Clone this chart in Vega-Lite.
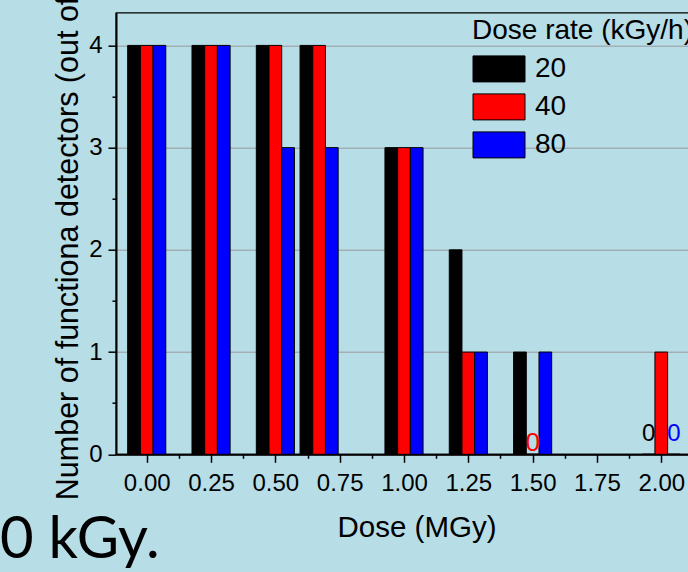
{
  "$schema": "https://vega.github.io/schema/vega-lite/v6.json",
  "width": 576,
  "height": 441.6,
  "autosize": {"type": "none"},
  "padding": {"left": 116, "top": 12.7, "right": 0, "bottom": 117.7},
  "background": "#b7dde7",
  "title": {"text": "0 kGy.", "orient": "bottom", "anchor": "start", "frame": "group", "dx": -116, "offset": 16, "baseline": "alphabetic", "font": "Lato", "fontSize": 58, "fontWeight": "normal", "color": "black"},
  "config": {"view": {"stroke": "black", "strokeWidth": 1.3}, "font": "Liberation Sans"},
  "data": {"values": [
    {"dose": 0, "rate": "20", "value": 4}, {"dose": 0, "rate": "40", "value": 4}, {"dose": 0, "rate": "80", "value": 4},
    {"dose": 0.25, "rate": "20", "value": 4}, {"dose": 0.25, "rate": "40", "value": 4}, {"dose": 0.25, "rate": "80", "value": 4},
    {"dose": 0.5, "rate": "20", "value": 4}, {"dose": 0.5, "rate": "40", "value": 4}, {"dose": 0.5, "rate": "80", "value": 3},
    {"dose": 0.67, "rate": "20", "value": 4}, {"dose": 0.67, "rate": "40", "value": 4}, {"dose": 0.67, "rate": "80", "value": 3},
    {"dose": 1.0, "rate": "20", "value": 3}, {"dose": 1.0, "rate": "40", "value": 3}, {"dose": 1.0, "rate": "80", "value": 3},
    {"dose": 1.25, "rate": "20", "value": 2}, {"dose": 1.25, "rate": "40", "value": 1}, {"dose": 1.25, "rate": "80", "value": 1},
    {"dose": 1.5, "rate": "20", "value": 1}, {"dose": 1.5, "rate": "40", "value": 0}, {"dose": 1.5, "rate": "80", "value": 1},
    {"dose": 2.0, "rate": "20", "value": 0}, {"dose": 2.0, "rate": "40", "value": 1}, {"dose": 2.0, "rate": "80", "value": 0}
  ]},
  "resolve": {"axis": {"x": "independent", "y": "independent"}},
  "layer": [
    {
      "transform": [{"filter": "datum.rate == '20'"}],
      "mark": {"type": "bar", "width": 12.7, "xOffset": -12.7, "stroke": "black", "strokeWidth": 1},
      "encoding": {
        "x": {"field": "dose", "type": "quantitative", "scale": {"domain": [-0.1, 2.1], "nice": false, "zero": false},
          "axis": {"orient": "bottom", "values": [0, 0.25, 0.5, 0.75, 1, 1.25, 1.5, 1.75, 2], "format": ".2f", "title": "Dose (MGy)", "titleFontSize": 29.5, "titleFontWeight": "normal", "titleColor": "black", "titleX": 300.5, "titleY": 81.7, "titleBaseline": "alphabetic", "titleAlign": "center", "labelFontSize": 24, "labelColor": "black", "labelPadding": 9, "tickSize": 8, "tickWidth": 1.5, "tickColor": "black", "domainColor": "black", "domainWidth": 2, "grid": false, "labelFlush": false, "labelOverlap": false}},
        "y": {"field": "value", "type": "quantitative", "scale": {"domain": [0, 4.32], "nice": false, "zero": true},
          "axis": {"orient": "left", "values": [0, 1, 2, 3, 4], "format": "d", "title": "Number of functiona detectors (out of 4)", "titleFontSize": 30.5, "titleFontWeight": "normal", "titleColor": "black", "titleX": -39, "titleY": 487, "titleAlign": "left", "titleAngle": -90, "titleBaseline": "alphabetic", "labelFontSize": 24, "labelColor": "black", "labelPadding": 6, "tickSize": 8, "tickWidth": 1.5, "tickColor": "black", "grid": true, "gridColor": "#999999", "gridWidth": 1, "domainColor": "black", "domainWidth": 2}},
        "color": {"field": "rate", "type": "nominal", "scale": {"domain": ["20", "40", "80"], "range": ["#000000", "#ff0000", "#0000ff"]},
          "legend": {"title": "Dose rate (kGy/h)", "orient": "none", "legendX": 356, "legendY": 4.2, "titleFontSize": 28, "titleFontWeight": "normal", "titleColor": "black", "titlePadding": 10, "titleLimit": 1000, "labelFontSize": 28, "labelColor": "black", "symbolType": "M-1,-1H3V1H-1Z", "symbolSize": 676, "symbolStrokeColor": "black", "symbolStrokeWidth": 1, "symbolOpacity": 1, "labelOffset": 35, "rowPadding": 8, "padding": 0}}
      }
    },
    {
      "transform": [{"filter": "datum.rate == '40'"}],
      "mark": {"type": "bar", "width": 12.7, "xOffset": 0, "stroke": "black", "strokeWidth": 1},
      "encoding": {
        "x": {"field": "dose", "type": "quantitative", "axis": {"orient": "bottom", "values": [0.125, 0.375, 0.625, 0.875, 1.125, 1.375, 1.625, 1.875], "labels": false, "title": null, "tickSize": 4, "tickWidth": 1.5, "tickColor": "black", "domain": false, "grid": false}},
        "y": {"field": "value", "type": "quantitative", "axis": {"orient": "left", "values": [0.5, 1.5, 2.5, 3.5], "labels": false, "title": null, "tickSize": 4, "tickWidth": 1.5, "tickColor": "black", "domain": false, "grid": false}},
        "color": {"field": "rate", "type": "nominal"}
      }
    },
    {
      "transform": [{"filter": "datum.rate == '80'"}],
      "mark": {"type": "bar", "width": 12.7, "xOffset": 12.7, "stroke": "black", "strokeWidth": 1},
      "encoding": {
        "x": {"field": "dose", "type": "quantitative", "axis": null},
        "y": {"field": "value", "type": "quantitative", "axis": null},
        "color": {"field": "rate", "type": "nominal"}
      }
    },
    {
      "transform": [{"filter": "datum.rate == '20' && datum.value == 0"}],
      "mark": {"type": "text", "dx": -12.7, "dy": -13, "baseline": "alphabetic", "fontSize": 24, "color": "black"},
      "encoding": {
        "x": {"field": "dose", "type": "quantitative", "axis": null},
        "y": {"field": "value", "type": "quantitative", "axis": null},
        "text": {"field": "value", "type": "quantitative"}
      }
    },
    {
      "transform": [{"filter": "datum.rate == '40' && datum.value == 0"}],
      "mark": {"type": "text", "dx": 0, "dy": -3, "baseline": "alphabetic", "fontSize": 26, "color": "#ff0000"},
      "encoding": {
        "x": {"field": "dose", "type": "quantitative", "axis": null},
        "y": {"field": "value", "type": "quantitative", "axis": null},
        "text": {"field": "value", "type": "quantitative"}
      }
    },
    {
      "transform": [{"filter": "datum.rate == '80' && datum.value == 0"}],
      "mark": {"type": "text", "dx": 12.7, "dy": -13, "baseline": "alphabetic", "fontSize": 24, "color": "#0000ff"},
      "encoding": {
        "x": {"field": "dose", "type": "quantitative", "axis": null},
        "y": {"field": "value", "type": "quantitative", "axis": null},
        "text": {"field": "value", "type": "quantitative"}
      }
    }
  ]
}
